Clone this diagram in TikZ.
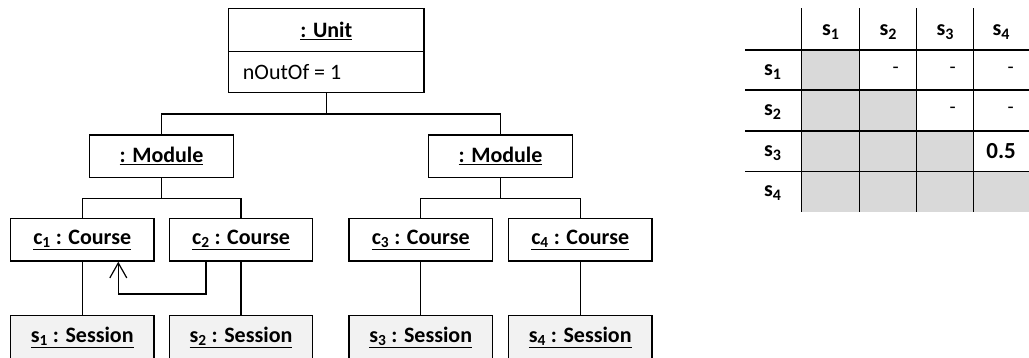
\documentclass[tikz,border=0pt]{standalone}
\usepackage{fontspec}
\setmainfont{Carlito}
\usetikzlibrary{arrows.meta}
\tikzset{
  obj/.style={draw=black, line width=1.4pt, fill=white, inner sep=0pt, font=\bfseries\fontsize{22}{24}\selectfont},
  modbox/.style={obj, minimum width=143.6pt, minimum height=42.7pt},
  coursebox/.style={obj, minimum width=143.2pt, minimum height=42.7pt},
  sessbox/.style={obj, fill=black!5, minimum width=143.2pt, minimum height=44pt},
  link/.style={draw=black, line width=1.1pt},
  grid/.style={draw=black, line width=1.3pt},
  tlabel/.style={font=\bfseries\fontsize{22}{24}\selectfont, inner sep=0pt},
  tdash/.style={font=\fontsize{20}{22}\selectfont, inner sep=0pt, anchor=east},
}
\newcommand{\subidx}[1]{\textsubscript{#1}}
\newcommand{\tsub}[1]{\raisebox{-0.35ex}{\fontsize{16}{16}\selectfont #1}}
\begin{document}
\begin{tikzpicture}[x=1pt,y=-1pt]
\useasboundingbox (0,0) rectangle (1029,358);
% Unit
\node[draw=black, line width=1.4pt, minimum width=195.3pt, minimum height=84pt, inner sep=0pt] (unit) at (326.3,50.3) {};
\draw[line width=1.4pt] (228.7,51.7) -- (424,51.7);
\node[font=\bfseries\fontsize{22}{24}\selectfont, inner sep=0pt] (unittitle) at (326.3,31) {\underline{: Unit}};
\node[font=\fontsize{22}{24}\selectfont, inner sep=0pt, anchor=west] (unitattr) at (242.7,72) {nOutOf = 1};
% Modules
\node[modbox] (modL) at (161.5,156.3) {\underline{: Module}};
\node[modbox] (modR) at (500.5,156.3) {\underline{: Module}};
% Courses
\node[coursebox] (c1) at (82.2,239.7) {\underline{c\subidx{1} : Course}};
\node[coursebox] (c2) at (241,239.7) {\underline{c\subidx{2} : Course}};
\node[coursebox] (c3) at (420.7,239.7) {\underline{c\subidx{3} : Course}};
\node[coursebox] (c4) at (580.2,239.7) {\underline{c\subidx{4} : Course}};
% Sessions
\node[sessbox] (s1) at (82.2,337.7) {\underline{s\subidx{1} : Session}};
\node[sessbox] (s2) at (241,337.7) {\underline{s\subidx{2} : Session}};
\node[sessbox] (s3) at (420.7,337.7) {\underline{s\subidx{3} : Session}};
\node[sessbox] (s4) at (580.2,337.7) {\underline{s\subidx{4} : Session}};
% Tree connectors
\coordinate (uj) at (326.3,114);
\draw[link] (unit.south) -- (uj) -| (modL.north);
\draw[link] (uj) -| (modR.north);
\coordinate (mlj) at (161.5,198.3);
\draw[link] (modL.south) -- (mlj) -| (c1.north);
\draw[link] (mlj) -| (c2.north);
\coordinate (mrj) at (500.5,198.3);
\draw[link] (modR.south) -- (mrj) -| (c3.north);
\draw[link] (mrj) -| (c4.north);
\draw[link] (c1.south) -- (s1.north);
\draw[link] (c2.south) -- (s2.north);
\draw[link] (c3.south) -- (s3.north);
\draw[link] (c4.south) -- (s4.north);
% dependency arrow c2 -> c1
\coordinate (a2) at (118.3,294);
\draw[link, -{Straight Barb[length=15pt,width=17pt,line width=1.2pt]}] ([xshift=-35pt]c2.south) |- (a2) -- ([xshift=36.1pt]c1.south);
% Table gray cells
\fill[black!15] (801.7,50) rectangle (859.3,90);
\fill[black!15] (801.7,90) rectangle (916.7,131);
\fill[black!15] (801.7,131) rectangle (973.3,171.7);
\fill[black!15] (801.7,171.7) rectangle (1029,211.7);
% Table grid
\foreach \yy in {50,90,131,171.7} \draw[grid] (745,\yy) -- (1029,\yy);
\foreach \xx in {801.7,859.3,916.7,973.3} \draw[grid] (\xx,8.3) -- (\xx,211.7);
% Headers
\node[tlabel] (h1) at (830.5,32) {s\tsub{1}};
\node[tlabel] (h2) at (888,32) {s\tsub{2}};
\node[tlabel] (h3) at (945,32) {s\tsub{3}};
\node[tlabel] (h4) at (1001,32) {s\tsub{4}};
\node[tlabel] (r1) at (772.5,72) {s\tsub{1}};
\node[tlabel] (r2) at (772.5,112) {s\tsub{2}};
\node[tlabel] (r3) at (772.5,153) {s\tsub{3}};
\node[tlabel] (r4) at (772.5,193) {s\tsub{4}};
% Entries
\node[tdash] (e12) at (899,70) {-};
\node[tdash] (e13) at (956,70) {-};
\node[tdash] (e14) at (1014,70) {-};
\node[tdash] (e23) at (956,110.5) {-};
\node[tdash] (e24) at (1014,110.5) {-};
\node[font=\bfseries\fontsize{23}{25}\selectfont, inner sep=0pt, anchor=east] (e34) at (1016,151.3) {0.5};
\end{tikzpicture}
\end{document}
